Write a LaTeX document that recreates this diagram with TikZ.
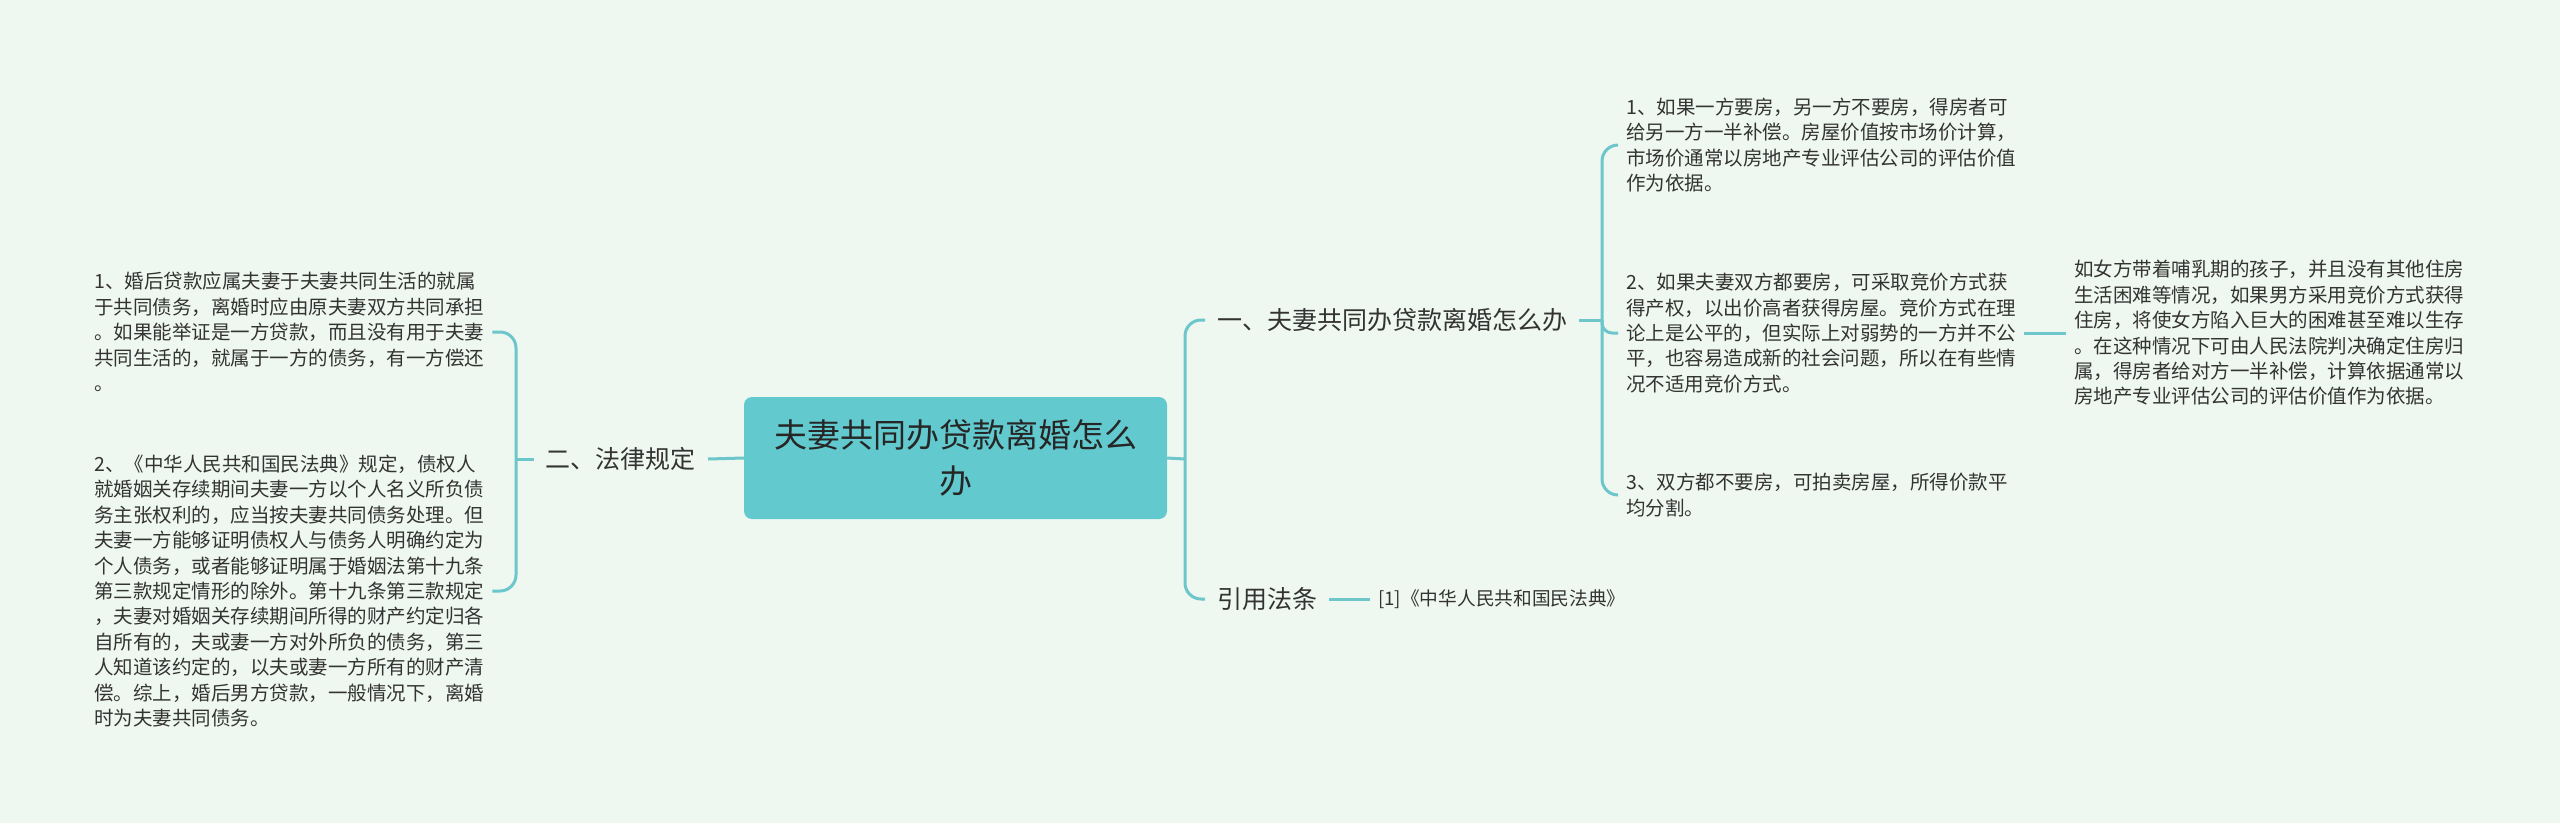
\documentclass[tikz,border=0pt]{standalone}
\usepackage{fontspec}
\setmainfont{Noto Sans CJK SC}
\definecolor{bg}{HTML}{EFF8F0}
\definecolor{conn}{HTML}{6CC6CB}
\definecolor{rootfill}{HTML}{62CACE}
\definecolor{txt}{HTML}{333333}
\begin{document}
\begin{tikzpicture}[x=1pt,y=-1pt,
  line/.style={draw=conn,line width=3pt},
  small/.style={font=\fontsize{19.5}{25.4}\selectfont,align=left,inner xsep=8pt,inner ysep=0pt,text=txt},
  branch/.style={font=\fontsize{25}{30}\selectfont,inner xsep=12pt,inner ysep=3pt,text=txt},
  rootbox/.style={fill=rootfill,rounded corners=8pt,minimum width=423pt,minimum height=122pt,align=center,font=\fontsize{33}{46}\selectfont,text=black!85}]
\fill[bg] (0,0) rectangle (2560,823);
\useasboundingbox (0,0) rectangle (2560,823);

\node[rootbox] (root) at (955.5,458) {夫妻共同办贷款离婚怎么\\办};

% left
\node[branch,anchor=east] (law) at (708,459) {二、法律规定};
\node[small,anchor=west] (t1) at (86,332) {1、婚后贷款应属夫妻于夫妻共同生活的就属\\
于共同债务，离婚时应由原夫妻双方共同承担\\
。如果能举证是一方贷款，而且没有用于夫妻\\
共同生活的，就属于一方的债务，有一方偿还\\
。};
\node[small,anchor=west] (t2) at (86,591) {2、《中华人民共和国民法典》规定，债权人\\
就婚姻关存续期间夫妻一方以个人名义所负债\\
务主张权利的，应当按夫妻共同债务处理。但\\
夫妻一方能够证明债权人与债务人明确约定为\\
个人债务，或者能够证明属于婚姻法第十九条\\
第三款规定情形的除外。第十九条第三款规定\\
，夫妻对婚姻关存续期间所得的财产约定归各\\
自所有的，夫或妻一方对外所负的债务，第三\\
人知道该约定的，以夫或妻一方所有的财产清\\
偿。综上，婚后男方贷款，一般情况下，离婚\\
时为夫妻共同债务。};

% right
\node[branch,anchor=west] (a1) at (1205,320) {一、夫妻共同办贷款离婚怎么办};
\node[branch,anchor=west] (a2) at (1205,599) {引用法条};
\node[small,anchor=west,font=\fontsize{18.7}{24}\selectfont] (ref) at (1370,599) {[1]《中华人民共和国民法典》};

\node[small,anchor=west] (r1) at (1618,145) {1、如果一方要房，另一方不要房，得房者可\\
给另一方一半补偿。房屋价值按市场价计算，\\
市场价通常以房地产专业评估公司的评估价值\\
作为依据。};
\node[small,anchor=west] (r2) at (1618,333) {2、如果夫妻双方都要房，可采取竞价方式获\\
得产权，以出价高者获得房屋。竞价方式在理\\
论上是公平的，但实际上对弱势的一方并不公\\
平，也容易造成新的社会问题，所以在有些情\\
况不适用竞价方式。};
\node[small,anchor=west] (r3) at (1618,495) {3、双方都不要房，可拍卖房屋，所得价款平\\
均分割。};
\node[small,anchor=west] (r4) at (2066,333) {如女方带着哺乳期的孩子，并且没有其他住房\\
生活困难等情况，如果男方采用竞价方式获得\\
住房，将使女方陷入巨大的困难甚至难以生存\\
。在这种情况下可由人民法院判决确定住房归\\
属，得房者给对方一半补偿，计算依据通常以\\
房地产专业评估公司的评估价值作为依据。};

% connectors
\coordinate (jl) at (516,459);
\coordinate (jm) at (1185,459);
\coordinate (jr) at (1602,320);
\draw[line] (root.west) -- (law.east);
\draw[line] (law.west) -- (jl);
\draw[line,rounded corners=16pt] (t1.east) -| (jl) |- (t2.east);
\draw[line] (root.east) -- (jm);
\draw[line,rounded corners=16pt] (a1.west) -| (jm) |- (a2.west);
\draw[line] (a2.east) -- (ref.west);
\draw[line] (a1.east) -- (jr);
\draw[line,rounded corners=16pt] (r1.west) -| (jr) |- (r3.west);
\draw[line,rounded corners=10pt] (jr) |- (r2.west);
\draw[line] (r2.east) -- (r4.west);
\end{tikzpicture}
\end{document}
